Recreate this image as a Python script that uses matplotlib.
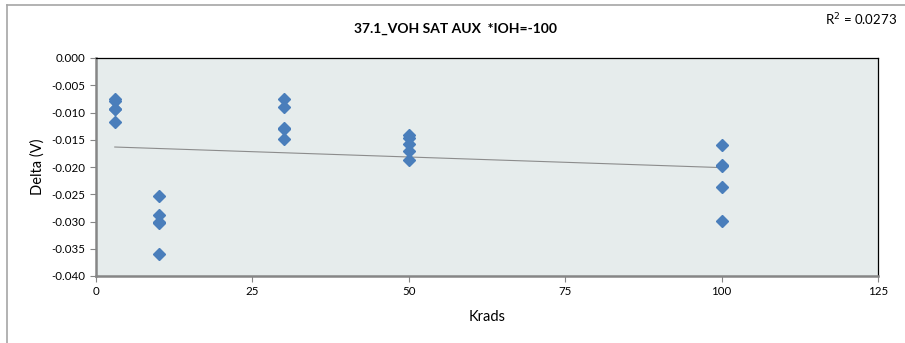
import numpy as np
import matplotlib
matplotlib.use("Agg")
import matplotlib.pyplot as plt
from matplotlib.lines import Line2D

plt.rcParams['font.family'] = ['Lato', 'DejaVu Sans']
plt.rcParams['axes.unicode_minus'] = False

# Dose levels (Krads) and measured deltas (V) per unit
doses = [3, 10, 30, 50, 100]
delta_3 = [-0.0076, -0.0078, -0.0093, -0.0094, -0.0117]
delta_10 = [-0.0254, -0.0288, -0.0300, -0.0303, -0.0360]
delta_30 = [-0.0076, -0.0090, -0.0128, -0.0131, -0.0149]
delta_50 = [-0.0142, -0.0146, -0.0158, -0.0170, -0.0187]
delta_100 = [-0.0160, -0.0196, -0.0199, -0.0236, -0.0299]
x_ticks = [0, 25, 50, 75, 100, 125]
y_ticks = [0.000, -0.005, -0.010, -0.015, -0.020, -0.025, -0.030, -0.035, -0.040]
title = "37.1_VOH SAT AUX  *IOH=-100"
r2_label = "R$^2$ = 0.0273"

groups = [delta_3, delta_10, delta_30, delta_50, delta_100]
xs = np.concatenate([[d] * len(g) for d, g in zip(doses, groups)]).astype(float)
ys = np.concatenate(groups)

W, H = 905, 343
fig = plt.figure(figsize=(W / 100, H / 100), dpi=100)
ax = fig.add_axes([96 / W, (H - 276) / H, (878 - 96) / W, (276 - 58) / H])
ax.set_facecolor('#E6ECEC')

ax.plot(xs, ys, linestyle='none', marker='D', markersize=6.2,
        color='#4A7EBB', markeredgecolor='#4A7EBB', zorder=3)

# Linear trend line across the dose range
slope, intercept = np.polyfit(xs, ys, 1)
tx = np.array([min(doses), max(doses)], dtype=float)
ax.plot(tx, slope * tx + intercept, color='#8C8C8C', linewidth=0.8, zorder=2)

ax.set_xlim(0, 125)
ax.set_ylim(-0.040, 0.000)
ax.set_xticks(x_ticks)
ax.set_yticks(y_ticks)
ax.set_xticklabels([str(t) for t in x_ticks])
ax.set_yticklabels([f"{t:.3f}" for t in y_ticks])
ax.tick_params(axis='both', labelsize=8.3, direction='out', length=4,
               width=0.8, color='#868686', labelcolor='#000000')

for side in ('left', 'bottom'):
    ax.spines[side].set_color('#868686')
    ax.spines[side].set_linewidth(1.8)
for side in ('top', 'right'):
    ax.spines[side].set_color('#000000')
    ax.spines[side].set_linewidth(0.9)

ax.set_xlabel("Krads", fontsize=10.5, labelpad=9)
ax.set_ylabel("Delta (V)", fontsize=10.5, labelpad=5)

fig.text(455 / W, 1 - 29 / H, title, ha='center', va='center',
         fontsize=10, fontweight='bold')
fig.text(897 / W, 1 - 20 / H, r2_label, ha='right', va='center', fontsize=9.5)

# Chart frame edges
fig.add_artist(Line2D([7 / W, 1], [1 - 5 / H, 1 - 5 / H], color='#A6A6A6',
                      linewidth=1.2, transform=fig.transFigure))
fig.add_artist(Line2D([7 / W, 7 / W], [0, 1 - 5 / H], color='#A6A6A6',
                      linewidth=1.2, transform=fig.transFigure))

fig.savefig("out.png", dpi=100)
